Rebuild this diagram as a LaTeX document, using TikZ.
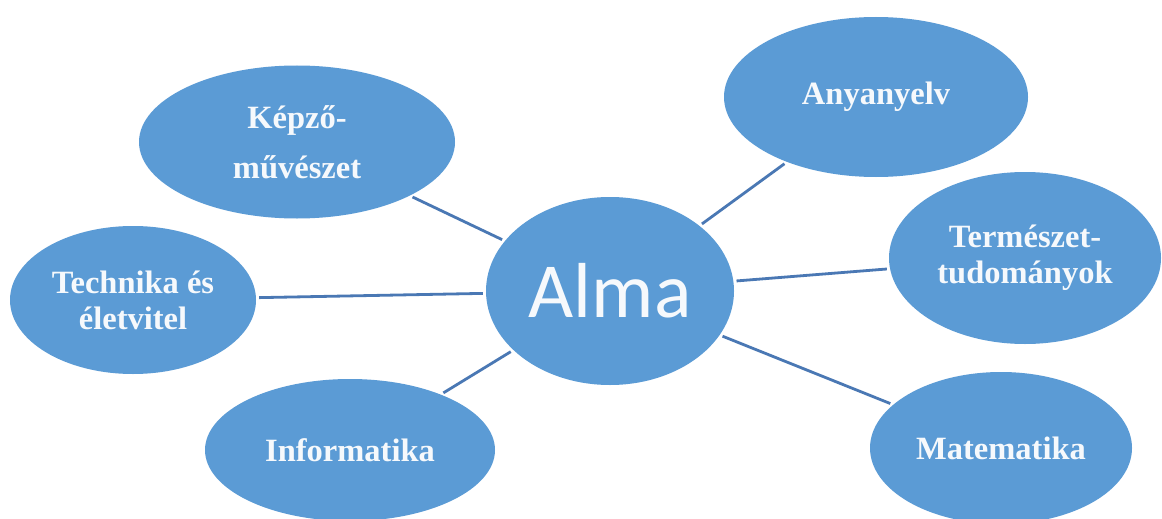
\documentclass[tikz,border=0pt]{standalone}
\usepackage{fontspec}
\setmainfont{Liberation Serif}
\newfontfamily\almafont{Carlito}
\usetikzlibrary{shapes.geometric}
\definecolor{bubble}{RGB}{91,155,213}
\definecolor{linkc}{RGB}{74,120,180}
\definecolor{txt}{RGB}{246,249,252}
\tikzset{
  bubble/.style={ellipse, fill=bubble, draw=none, inner sep=0pt, align=center,
    text=txt, font=\fontsize{32.5}{36}\selectfont\bfseries},
  link/.style={draw=linkc, line width=2.8pt, shorten <=3pt, shorten >=3pt}
}
\begin{document}
\begin{tikzpicture}[x=1pt,y=-1pt]
\useasboundingbox[fill=white] (0,0) rectangle (1162,519);
\node[bubble, minimum width=316pt, minimum height=153pt] (kep) at (297,142) {Képző-\\[14pt]művészet};
\node[bubble, minimum width=304pt, minimum height=160pt] (any) at (876,97) {Anyanyelv};
\node[bubble, minimum width=272pt, minimum height=172pt] (ter) at (1025,258) {Természet-\\tudományok};
\node[bubble, minimum width=246pt, minimum height=148pt] (tec) at (133,300) {Technika és\\életvitel};
\node[bubble, minimum width=290pt, minimum height=142pt] (inf) at (350,450) {Informatika};
\node[bubble, minimum width=262pt, minimum height=152pt] (mat) at (1001,448) {Matematika};
\node[bubble, minimum width=248pt, minimum height=188pt, font=\almafont\fontsize{78}{80}\selectfont] (alma) at (610,291) {Alma};
\draw[link] (kep) -- (alma);
\draw[link] (any) -- (alma);
\draw[link] (ter) -- (alma);
\draw[link] (tec) -- (alma);
\draw[link] (inf) -- (alma);
\draw[link] (mat) -- (alma);
\end{tikzpicture}
\end{document}
